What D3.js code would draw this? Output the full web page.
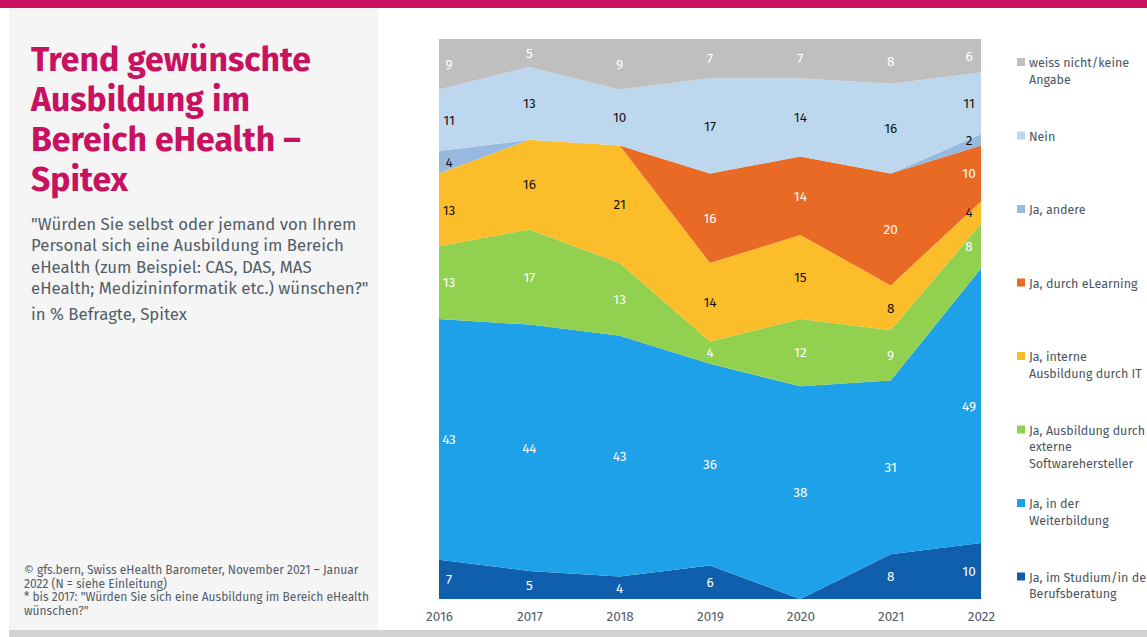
<!DOCTYPE html>
<html>
<head>
<meta charset="utf-8">
<script src="https://cdn.jsdelivr.net/npm/d3@7"></script>
<style>
  html, body { margin: 0; padding: 0; background: #fff; }
  svg { display: block; font-family: "Fira Sans", Roboto, "Noto Sans", sans-serif; }
</style>
</head>
<body>
<svg id="chart" width="1147" height="637"></svg>
<script>
// Survey years
const years = [2016, 2017, 2018, 2019, 2020, 2021, 2022];

// Answer shares in % (stack order bottom to top)
const studium       = [7, 5, 4, 6, 0, 8, 10];
const weiterbildung = [43, 44, 43, 36, 38, 31, 49];
const extern        = [13, 17, 13, 4, 12, 9, 8];
const intern        = [13, 16, 21, 14, 15, 8, 4];
const elearning     = [0, 0, 0, 16, 14, 20, 10];
const andere        = [4, 0, 0, 0, 0, 0, 2];
const nein          = [11, 13, 10, 17, 14, 16, 11];
const weissNicht    = [9, 5, 9, 7, 7, 8, 6];

const seriesDefs = [
  { key: "studium", label: ["Ja, im Studium/in der", "Berufsberatung"], values: studium, color: "#0f5fac", text: "#fff" },
  { key: "weiterbildung", label: ["Ja, in der", "Weiterbildung"], values: weiterbildung, color: "#1fa1ea", text: "#fff" },
  { key: "extern", label: ["Ja, Ausbildung durch", "externe", "Softwarehersteller"], values: extern, color: "#92d04f", text: "#fff" },
  { key: "intern", label: ["Ja, interne", "Ausbildung durch IT"], values: intern, color: "#fbbd2a", text: "#111" },
  { key: "elearning", label: ["Ja, durch eLearning"], values: elearning, color: "#e96a24", text: "#fff" },
  { key: "andere", label: ["Ja, andere"], values: andere, color: "#97b9df", text: "#111" },
  { key: "nein", label: ["Nein"], values: nein, color: "#bdd7ee", text: "#111" },
  { key: "weiss", label: ["weiss nicht/keine", "Angabe"], values: weissNicht, color: "#bfbfbf", text: "#fff" }
];

const svg = d3.select("#chart");
const W = 1147, H = 637;

// Page frame: top accent bar, left text panel, bottom strip
svg.append("rect").attr("x", 0).attr("y", 0).attr("width", W).attr("height", 8).attr("fill", "#c8115f");
svg.append("rect").attr("x", 9).attr("y", 8).attr("width", 369).attr("height", 622).attr("fill", "#f5f5f5");
svg.append("rect").attr("x", 9).attr("y", 630).attr("width", W - 9).attr("height", 7).attr("fill", "#d2d2d2");

// Title
const title = svg.append("text").attr("fill", "#c8115f").attr("font-weight", 700).attr("font-size", 33.8);
["Trend gewünschte", "Ausbildung im", "Bereich eHealth –", "Spitex"].forEach((t, i) => {
  title.append("tspan").attr("x", 31).attr("y", 71 + i * 40).text(t);
});

// Question text
const sub = svg.append("text").attr("fill", "#525d68").attr("font-size", 16.8);
["\"Würden Sie selbst oder jemand von Ihrem", "Personal sich eine Ausbildung im Bereich",
 "eHealth (zum Beispiel: CAS, DAS, MAS", "eHealth; Medizininformatik etc.) wünschen?\""].forEach((t, i) => {
  sub.append("tspan").attr("x", 31).attr("y", 230 + i * 21.3).text(t);
});
svg.append("text").attr("x", 31).attr("y", 320).attr("fill", "#525d68").attr("font-size", 16.8).text("in % Befragte, Spitex");

// Source note
const note = svg.append("text").attr("fill", "#525d68").attr("font-size", 12);
["© gfs.bern, Swiss eHealth Barometer, November 2021 – Januar", "2022 (N = siehe Einleitung)",
 "* bis 2017: \"Würden Sie sich eine Ausbildung im Bereich eHealth", "wünschen?\""].forEach((t, i) => {
  note.append("tspan").attr("x", 24).attr("y", 574 + i * 13.5).text(t);
});

// Plot area
const x0 = 439, x1 = 981, yTop = 39, yBot = 599;
const x = d3.scalePoint().domain(years).range([x0, x1]);
const y = d3.scaleLinear().domain([0, 100]).range([yBot, yTop]);

const table = years.map((yr, i) => {
  const row = { year: yr };
  seriesDefs.forEach(s => { row[s.key] = s.values[i]; });
  return row;
});
const stack = d3.stack().keys(seriesDefs.map(s => s.key));
const layers = stack(table);

const area = d3.area()
  .x(d => x(d.data.year))
  .y0(d => y(d[0]))
  .y1(d => y(d[1]));

const g = svg.append("g");
g.selectAll("path.band").data(layers).join("path")
  .attr("class", "band")
  .attr("d", area)
  .attr("fill", (d, i) => seriesDefs[i].color);

// Value labels centered in each band
layers.forEach((layer, i) => {
  const s = seriesDefs[i];
  layer.forEach((d, j) => {
    const v = s.values[j];
    if (v === 0) return;
    let px = x(d.data.year);
    if (j === 0) px += 10;
    if (j === years.length - 1) px -= 12;
    g.append("text")
      .attr("x", px)
      .attr("y", y((d[0] + d[1]) / 2))
      .attr("dy", "0.35em")
      .attr("text-anchor", "middle")
      .attr("font-size", 13.5)
      .attr("fill", s.text)
      .text(v);
  });
});

// X axis labels
const xAxis = d3.axisBottom(x).tickSize(0).tickPadding(12).tickFormat(d3.format("d"));
svg.append("g").attr("transform", `translate(0,${yBot})`).call(xAxis)
  .call(a => a.select(".domain").remove())
  .call(a => a.selectAll("text").attr("font-size", 13.5).attr("fill", "#525d68")
    .attr("font-family", "\"Fira Sans\", Roboto, \"Noto Sans\", sans-serif"));

// Legend, top to bottom
const legendOrder = seriesDefs.slice().reverse();
const leg = svg.append("g");
legendOrder.forEach((s, i) => {
  const ly = 62 + i * 73.5;
  leg.append("rect").attr("x", 1017).attr("y", ly - 4).attr("width", 8).attr("height", 8).attr("fill", s.color);
  const t = leg.append("text").attr("font-size", 12.5).attr("fill", "#4a5561");
  s.label.forEach((line, k) => {
    t.append("tspan").attr("x", 1029).attr("y", ly + 5 + k * 16.8).text(line);
  });
});
</script>
</body>
</html>
